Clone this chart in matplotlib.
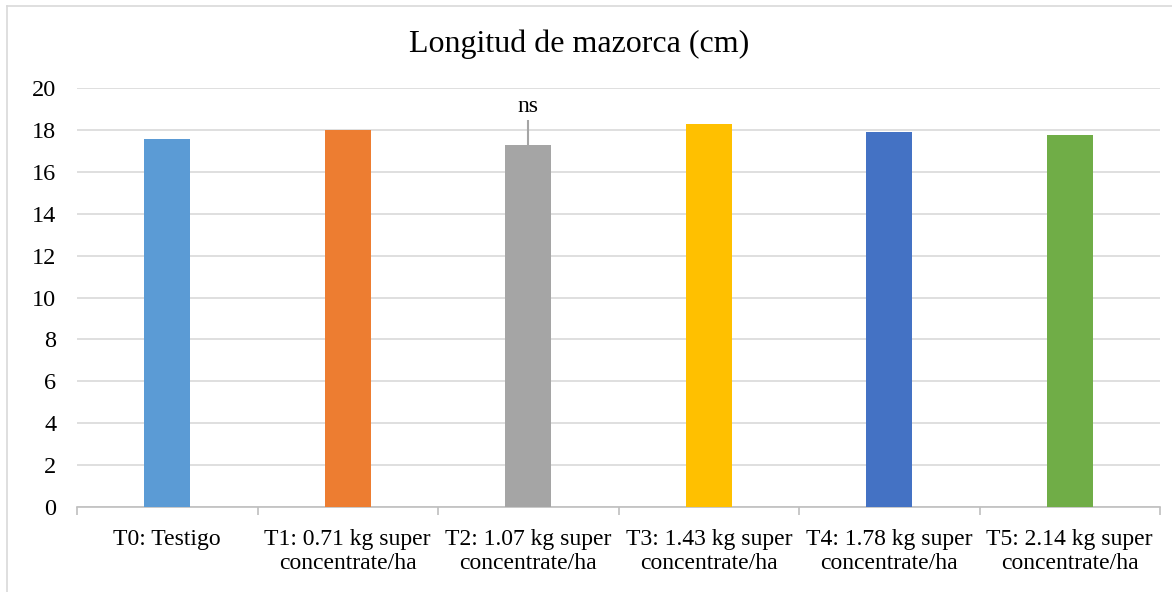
import numpy as np
import matplotlib.pyplot as plt
from matplotlib.lines import Line2D

plt.rcParams['font.family'] = ['Liberation Serif', 'DejaVu Serif']

categorias = ["T0: Testigo",
              "T1: 0.71 kg super\nconcentrate/ha",
              "T2: 1.07 kg super\nconcentrate/ha",
              "T3: 1.43 kg super\nconcentrate/ha",
              "T4: 1.78 kg super\nconcentrate/ha",
              "T5: 2.14 kg super\nconcentrate/ha"]
longitud = [17.55, 18.0, 17.3, 18.3, 17.9, 17.75]
colores = ['#5B9BD5', '#ED7D31', '#A5A5A5', '#FFC000', '#4472C4', '#70AD47']
err_t2 = 1.15
yticks = np.arange(0, 21, 2)

fig = plt.figure(figsize=(11.72, 5.92), dpi=100)
ax = fig.add_axes([77/1172, 1 - 507/592, (1160 - 77)/1172, (507 - 88)/592])

# borde del area del grafico (solo izquierda y arriba visibles)
fig.add_artist(Line2D([7/1172, 7/1172], [0, 1 - 6/592], transform=fig.transFigure,
                      color='#D9D9D9', lw=1.2))
fig.add_artist(Line2D([7/1172, 1], [1 - 6/592, 1 - 6/592], transform=fig.transFigure,
                      color='#D9D9D9', lw=1.2))

x = np.arange(len(categorias))
ax.bar(x, longitud, width=0.255, color=colores, zorder=3)
ax.errorbar([x[2]], [longitud[2]], yerr=[[0], [err_t2]], fmt='none',
            ecolor='#A5A5A5', elinewidth=1.5, capsize=0, zorder=4)
ax.text(x[2], 19.1, 'ns', ha='center', va='center', fontsize=17)

ax.set_xlim(-0.5, len(categorias) - 0.5)
ax.set_ylim(0, 20)
ax.set_yticks(yticks)
ax.yaxis.grid(True, color='#D9D9D9', lw=1.2, zorder=0)
ax.set_axisbelow(True)

ax.set_xticks(x)
ax.set_xticklabels(categorias, fontsize=17, linespacing=1.15)
ax.set_xticks(np.arange(-0.5, len(categorias)), minor=True)
ax.tick_params(axis='x', which='major', length=0, pad=16)
ax.tick_params(axis='x', which='minor', length=6, color='#BFBFBF', width=1.2)
ax.tick_params(axis='y', length=0, labelsize=17.5, pad=15)

for s in ['top', 'right', 'left']:
    ax.spines[s].set_visible(False)
ax.spines['bottom'].set_color('#BFBFBF')
ax.spines['bottom'].set_linewidth(1.2)

fig.text(579/1172, 1 - 44/592, 'Longitud de mazorca (cm)', ha='center', va='center', fontsize=23)

fig.savefig('out.png', dpi=100)
